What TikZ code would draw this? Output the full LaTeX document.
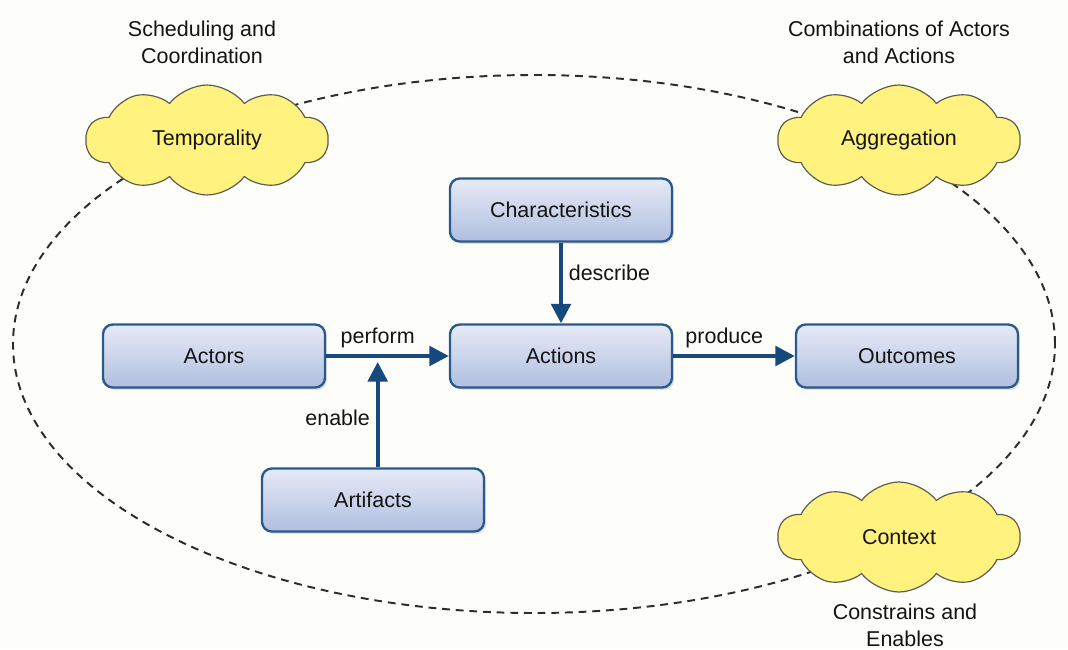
\documentclass[tikz,border=0pt]{standalone}
\usepackage{fontspec}
\setmainfont{Liberation Sans}
\usetikzlibrary{arrows.meta,positioning,calc,shapes.symbols,shadows}
\definecolor{paper}{HTML}{FDFDFA}
\definecolor{ink}{HTML}{141414}
\definecolor{frame}{HTML}{2A5A8C}
\definecolor{flow}{HTML}{17497E}
\definecolor{boxtop}{HTML}{E6EAF6}
\definecolor{boxbot}{HTML}{B0BFDF}
\definecolor{puff}{HTML}{FFF27F}
\definecolor{puffline}{HTML}{5A5A50}
\newcommand{\px}{0.018cm}
\newcommand{\BoxW}{222}
\newcommand{\BoxH}{63}

\begin{document}
\begin{tikzpicture}[x=\px, y=-\px, ink,
    font=\fontsize{11}{14}\selectfont,
    block/.style={draw=frame, line width=1.2pt, rounded corners=5pt,
      top color=boxtop, bottom color=boxbot,
      minimum width={\BoxW*\px}, minimum height={\BoxH*\px},
      drop shadow={opacity=0.25, shadow xshift=1pt, shadow yshift=-1.2pt}},
    puffy/.style={cloud, cloud puffs=10, cloud puff arc=105, cloud ignores aspect,
      draw=puffline, line width=0.6pt, fill=puff,
      minimum width={242*\px}, minimum height={110*\px}},
    note/.style={align=center},
    flowline/.style={-{Triangle[length=10pt, width=10pt]}, line width=2pt, draw=flow},
    lbl/.style={inner sep=3pt},
  ]
% --- Background ---------------------------------------------------------------
\fill[paper] (0,0) rectangle (1068,649);
\useasboundingbox (0,0) rectangle (1068,649);

% --- Dashed boundary, clouds on top of it --------------------------------------
\draw[dash pattern=on 4pt off 3pt, line width=1pt, draw=ink!90]
  (534,344) ellipse [x radius={521*\px}, y radius={269*\px}];

\node[puffy] (temporality) at (207,140) {Temporality};
\node[puffy] (aggregation) at (899,140) {Aggregation};
\node[puffy] (context) at (899,537) {Context};

\node[note] (schedNote) at (202,42) {Scheduling and\\Coordination};
\node[note] (combiNote) at (899,42) {Combinations of Actors\\and Actions};
\node[note] (constrNote) at (905,625) {Constrains and\\Enables};

% --- Blocks --------------------------------------------------------------------
\node[block] (characteristics) at (561,210) {Characteristics};
\node[block] (actors) at (214,356) {Actors};
\node[block] (actions) at (561,356) {Actions};
\node[block] (outcomes) at (907,356) {Outcomes};
\node[block] (artifacts) at (373,500) {Artifacts};

% --- Flows ---------------------------------------------------------------------
\draw[flowline] (actors.east) -- node[lbl, above, pos=0.42] {perform} (actions.west);
\draw[flowline] (actions.east) -- node[lbl, above, pos=0.42] {produce} (outcomes.west);
\draw[flowline] (characteristics.south) -- node[lbl, right, pos=0.37] {describe} (actions.north);
\coordinate (enableTip) at ($(actors.east)!0.42!(actions.west)+(0,6)$);
\draw[flowline] (artifacts.north -| enableTip) -- node[lbl, left, pos=0.47] {enable} (enableTip);
\end{tikzpicture}
\end{document}
